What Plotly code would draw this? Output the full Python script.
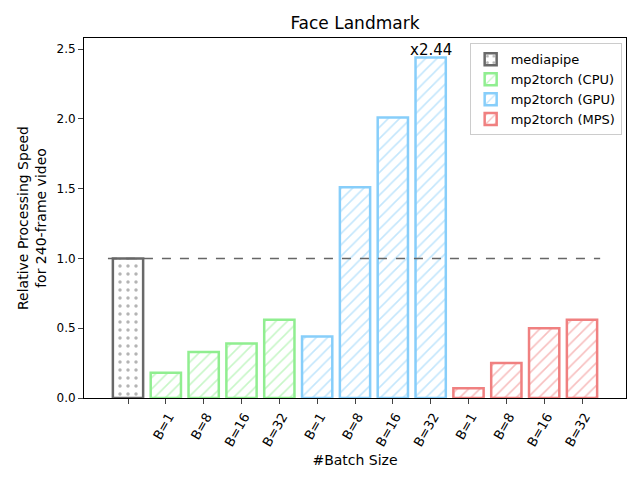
import plotly.graph_objects as go

# data
series_names = ["mediapipe", "mp2torch (CPU)", "mp2torch (GPU)", "mp2torch (MPS)"]
batch_labels = ["B=1", "B=8", "B=16", "B=32"]
mediapipe_speed = [1.0]
cpu_speed = [0.18, 0.33, 0.39, 0.56]
gpu_speed = [0.44, 1.51, 2.01, 2.44]
mps_speed = [0.07, 0.25, 0.50, 0.56]
colors = ["#696969", "#90EE90", "#87CEFA", "#F08080"]

all_values = [mediapipe_speed, cpu_speed, gpu_speed, mps_speed]
positions = []
start = 0
for vals in all_values:
    positions.append(list(range(start, start + len(vals))))
    start += len(vals)

tick_text = [""] + batch_labels * 3

fig = go.Figure()
for name, xs, vals, col in zip(series_names, positions, all_values, colors):
    fig.add_trace(go.Bar(
        x=xs,
        y=vals,
        name=name,
        width=0.8,
        marker=dict(
            color="white",
            line=dict(color=col, width=2.5),
            pattern=dict(
                shape="." if name == "mediapipe" else "/",
                fgcolor=col,
                bgcolor="white",
                size=8,
                solidity=0.15 if name == "mediapipe" else 0.2,
            ),
        ),
    ))

# baseline at mediapipe speed
fig.add_shape(type="line", x0=-0.53, x1=12.48, y0=mediapipe_speed[0], y1=mediapipe_speed[0],
              line=dict(color="#666666", width=1.5, dash="dash"))

best = max(gpu_speed)
fig.add_annotation(x=positions[2][gpu_speed.index(best)], y=best, text=f"x{best:.2f}",
                   showarrow=False, yanchor="bottom", yshift=-4,
                   font=dict(size=15, color="black"))

# the page body has an 8px margin, so the figure is a bit smaller than the window
fig.update_layout(
    width=632,
    height=472,
    template="plotly_white",
    font=dict(family="DejaVu Sans", size=12, color="black"),
    title=dict(text="Face Landmark", x=0.549, xanchor="center", y=0.968, yanchor="middle",
               font=dict(size=17)),
    margin=dict(l=76, r=14, t=30, b=82, autoexpand=False),
    barmode="overlay",
    legend=dict(
        x=0.992, y=0.985, xanchor="right", yanchor="top",
        bgcolor="rgba(255,255,255,0.8)", bordercolor="#cccccc", borderwidth=1,
        font=dict(size=13),
    ),
    plot_bgcolor="white",
)
fig.update_xaxes(
    range=[-1.163, 13.163],
    tickvals=list(range(13)),
    ticktext=tick_text,
    tickangle=-60,
    tickfont=dict(size=13),
    ticklabelshift=3,
    ticks="outside",
    ticklen=5,
    showgrid=False,
    zeroline=False,
    showline=True,
    linecolor="black",
    mirror=True,
    automargin=False,
    title=dict(text="#Batch Size", standoff=6),
)
fig.update_yaxes(
    range=[0, 2.579],
    tickvals=[0, 0.5, 1.0, 1.5, 2.0, 2.5],
    tickformat=".1f",
    ticks="outside",
    ticklen=5,
    showgrid=False,
    zeroline=False,
    showline=True,
    linecolor="black",
    mirror=True,
    automargin=False,
    title=dict(text="Relative Processing Speed<br>for 240-frame video", standoff=6),
)

fig.write_html("out.html")
